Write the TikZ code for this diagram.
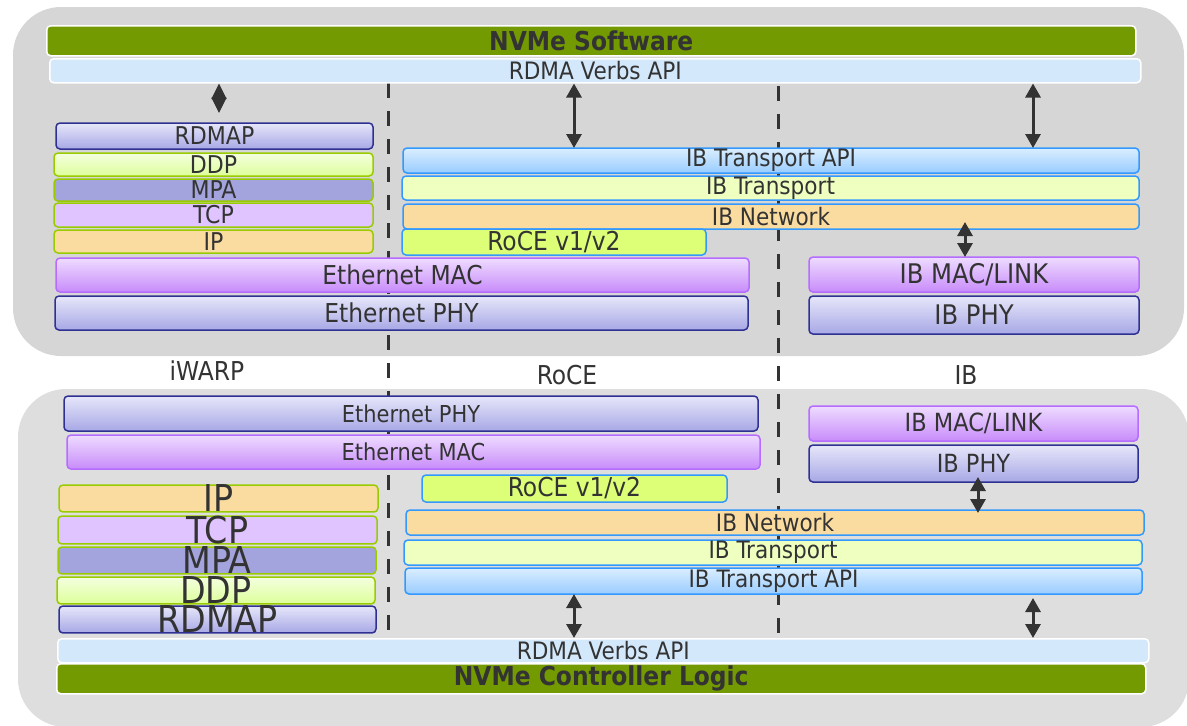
\documentclass[tikz,border=0pt]{standalone}
\usepackage{fontspec}
\setmainfont{DejaVu Sans Condensed}
\usetikzlibrary{arrows.meta}
\definecolor{txt}{HTML}{333333}
\definecolor{paneltop}{HTML}{D6D6D6}
\definecolor{panelbot}{HTML}{DEDEDE}
\definecolor{nvgreen}{HTML}{739A00}
\definecolor{verbs}{HTML}{D4E8FC}
\definecolor{navy}{HTML}{2E3192}
\definecolor{lavtop}{HTML}{E6E6FA}
\definecolor{lavbot}{HTML}{A8A8E6}
\definecolor{purpline}{HTML}{B56CFF}
\definecolor{purptop}{HTML}{EEDCFF}
\definecolor{purpbot}{HTML}{C88CFA}
\definecolor{limeline}{HTML}{99CC00}
\definecolor{ddptop}{HTML}{F4FFE0}
\definecolor{ddpbot}{HTML}{DDFF99}
\definecolor{mpafill}{HTML}{A3A3DD}
\definecolor{tcpfill}{HTML}{E0C4FF}
\definecolor{ipfill}{HTML}{FADCA0}
\definecolor{blueline}{HTML}{3399FF}
\definecolor{apitop}{HTML}{DAEEFF}
\definecolor{apibot}{HTML}{99CCFF}
\definecolor{ibtfill}{HTML}{EEFFC0}
\definecolor{rocefill}{HTML}{DDFF77}
\begin{document}
\begin{tikzpicture}[x=1pt,y=-1pt,
  layer/.style={anchor=north west, rounded corners=4pt, line width=1.5pt, inner sep=0pt, outer sep=0pt, text=txt},
  lav/.style={top color=lavtop, bottom color=lavbot, draw=navy},
  purp/.style={top color=purptop, bottom color=purpbot, draw=purpline},
  ddp/.style={top color=ddptop, bottom color=ddpbot, draw=limeline},
  mpa/.style={fill=mpafill, draw=limeline},
  tcp/.style={fill=tcpfill, draw=limeline},
  ipl/.style={fill=ipfill, draw=limeline},
  api/.style={top color=apitop, bottom color=apibot, draw=blueline},
  ibt/.style={fill=ibtfill, draw=blueline},
  ibn/.style={fill=ipfill, draw=blueline},
  roce/.style={fill=rocefill, draw=blueline},
  nvbar/.style={anchor=north west, rounded corners=4pt, line width=1.5pt, draw=white, fill=nvgreen, inner sep=0pt, text=txt, font=\fontsize{26}{26}\selectfont\bfseries},
  verbsbar/.style={anchor=north west, rounded corners=4pt, line width=1.5pt, draw=white, fill=verbs, inner sep=0pt, text=txt, font=\fontsize{24}{24}\selectfont},
  divider/.style={draw=txt, line width=3pt, dash pattern=on 15pt off 13pt},
  bidir/.style={draw=txt, line width=3pt, {Triangle[width=15pt,length=14pt]}-{Triangle[width=15pt,length=14pt]}},
  diam/.style={draw=txt, line width=1pt, {Triangle[width=15pt,length=15.5pt]}-{Triangle[width=15pt,length=15.5pt]}},
  fs/.style={font=\fontsize{#1}{#1}\selectfont},
  lbl/.style={text=txt, font=\fontsize{26}{26}\selectfont}
]
\useasboundingbox (0,0) rectangle (1187,726);
\clip (0,0) rectangle (1187,726);
% panels
\fill[paneltop, rounded corners=48pt] (13,7) rectangle (1184,356);
\fill[panelbot, rounded corners=48pt] (18,389) rectangle (1189,727);
% dividers
\coordinate (d1t) at (388,83); \coordinate (d1b) at (388,637);
\coordinate (d2t) at (778,86); \coordinate (d2b) at (778,637);
\draw[divider] (d1t) -- (d1b);
\draw[divider] (d2t) -- (d2b);
% ---------- top stack ----------
\node[nvbar, minimum width=1089pt, minimum height=30pt] (nvs) at (46,25) {NVMe Software};
\node[verbsbar, minimum width=1091pt, minimum height=24pt] (rv1) at (49,58) {RDMA Verbs API};
\node[layer, lav, fs=24.5, minimum width=317pt, minimum height=26pt] (rdmap1) at (56,123) {RDMAP};
\node[layer, ddp, fs=24.5, minimum width=319pt, minimum height=23pt] (ddp1) at (54,153) {DDP};
\node[layer, mpa, fs=24.5, minimum width=319pt, minimum height=22pt] (mpa1) at (54,179) {MPA};
\node[layer, tcp, fs=24.5, minimum width=319pt, minimum height=24pt] (tcp1) at (54,203) {TCP};
\node[layer, ipl, fs=24.5, minimum width=319pt, minimum height=23pt] (ip1) at (54,230) {IP};
\node[layer, api, fs=24, minimum width=736pt, minimum height=25pt] (api1) at (403,148) {IB Transport API};
\node[layer, ibt, fs=24, minimum width=737pt, minimum height=24pt] (ibt1) at (402,176) {IB Transport};
\node[layer, ibn, fs=24, minimum width=736pt, minimum height=25pt] (ibn1) at (403,204) {IB Network};
\node[layer, roce, fs=26, minimum width=304pt, minimum height=26pt] (roce1) at (402,229) {RoCE v1/v2};
\node[layer, purp, fs=26, minimum width=693pt, minimum height=34pt] (emac1) at (56,258) {Ethernet MAC};
\node[layer, lav, fs=26, minimum width=693pt, minimum height=34pt] (ephy1) at (55,296) {Ethernet PHY};
\node[layer, purp, fs=27, minimum width=330pt, minimum height=35pt] (ibmac1) at (809,257) {IB MAC/LINK};
\node[layer, lav, fs=27, minimum width=330pt, minimum height=38pt] (ibphy1) at (809,296) {IB PHY};
% top arrows
\coordinate (a1) at (219,113);
\coordinate (a2) at (574,0);
\coordinate (a3) at (1033,0);
\coordinate (a4) at (965,222);
\draw[diam] (rv1.south -| a1) -- (a1);
\draw[bidir] (rv1.south -| a2) -- (api1.north -| a2);
\draw[bidir] (rv1.south -| a3) -- (api1.north -| a3);
\draw[bidir] (a4) -- (ibmac1.north -| a4);
% labels
\node[lbl] (iwarp) at (207,371) {iWARP};
\node[lbl] (rocel) at (567,375) {RoCE};
\node[lbl] (ibl) at (966,375) {IB};
% ---------- bottom stack ----------
\node[layer, lav, fs=23.3, minimum width=694pt, minimum height=35pt] (ephy2) at (64,396) {Ethernet PHY};
\node[layer, purp, fs=23.3, minimum width=693pt, minimum height=34pt] (emac2) at (67,435) {Ethernet MAC};
\node[layer, ipl, fs=37, minimum width=319pt, minimum height=24pt] (ip2) at (59,485) {IP};
\node[layer, tcp, fs=37, minimum width=319pt, minimum height=25pt] (tcp2) at (58,516) {TCP};
\node[layer, mpa, fs=37, minimum width=318pt, minimum height=24pt] (mpa2) at (58,547) {MPA};
\node[layer, ddp, fs=37, minimum width=318pt, minimum height=24pt] (ddp2) at (57,577) {DDP};
\node[layer, lav, fs=37, minimum width=317pt, minimum height=26pt] (rdmap2) at (59,606) {RDMAP};
\node[layer, roce, fs=26, minimum width=305pt, minimum height=27pt] (roce2) at (422,475) {RoCE v1/v2};
\node[layer, ibn, fs=24, minimum width=738pt, minimum height=25pt] (ibn2) at (406,510) {IB Network};
\node[layer, ibt, fs=24, minimum width=738pt, minimum height=25pt] (ibt2) at (404,540) {IB Transport};
\node[layer, api, fs=24, minimum width=737pt, minimum height=26pt] (api2) at (405,568) {IB Transport API};
\node[layer, purp, fs=25, minimum width=329pt, minimum height=35pt] (ibmac2) at (809,406) {IB MAC/LINK};
\node[layer, lav, fs=25, minimum width=329pt, minimum height=37pt] (ibphy2) at (809,445) {IB PHY};
\node[verbsbar, minimum width=1091pt, minimum height=24pt] (rv2) at (57,638) {RDMA Verbs API};
\node[nvbar, minimum width=1089pt, minimum height=30pt] (nvc) at (56,663) {NVMe Controller Logic};
% bottom arrows
\coordinate (b1) at (574,0);
\coordinate (b2) at (1033,598);
\coordinate (b3) at (978,477);
\coordinate (b4) at (978,513);
\draw[bidir] (api2.south -| b1) -- (rv2.north -| b1);
\draw[bidir] (b2) -- (rv2.north -| b2);
\draw[bidir] (b3) -- (b4);
\end{tikzpicture}
\end{document}
